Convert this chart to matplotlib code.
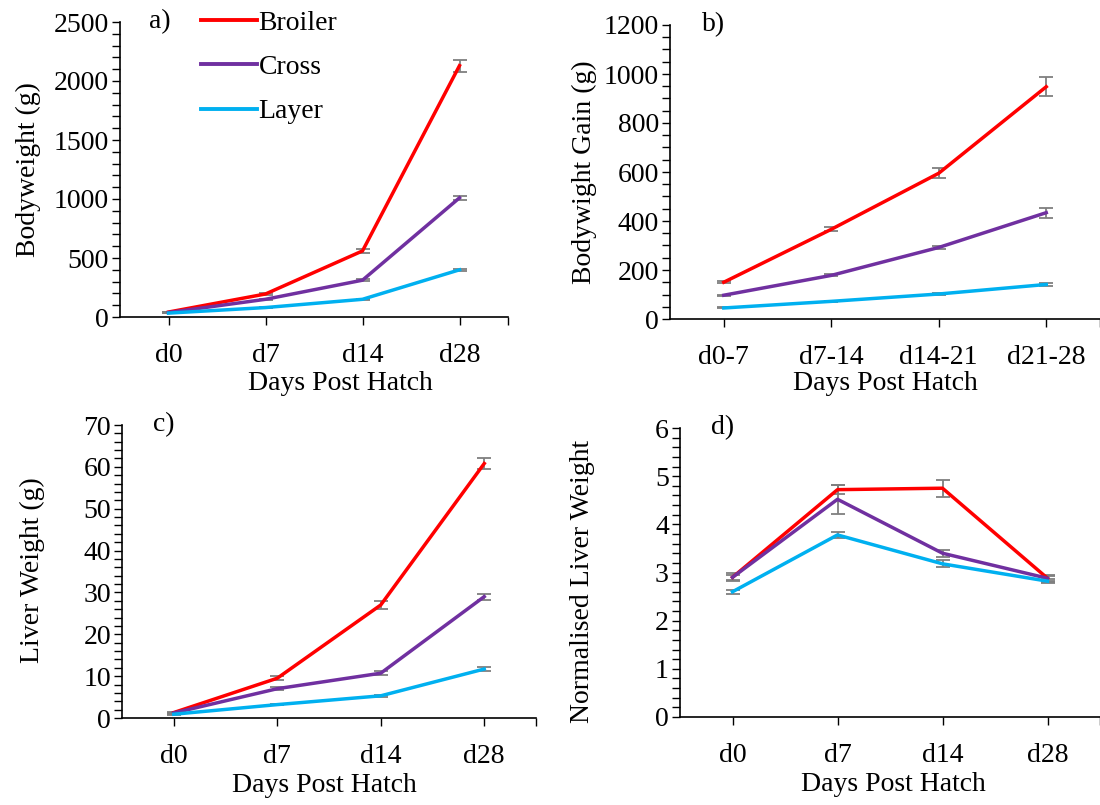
import matplotlib.pyplot as plt
from matplotlib.lines import Line2D
from matplotlib.ticker import MultipleLocator, FixedLocator

plt.rcParams['font.family'] = ['Liberation Serif']

lines = ['Broiler', 'Cross', 'Layer']
colors = {'Broiler': '#FF0000', 'Cross': '#7030A0', 'Layer': '#00B0F0'}

days = ['d0', 'd7', 'd14', 'd28']
gain_days = ['d0-7', 'd7-14', 'd14-21', 'd21-28']

# a) bodyweight (g)
bw = {'Broiler': [42, 195, 560, 2130],
      'Cross': [38, 150, 312, 1010],
      'Layer': [33, 80, 150, 400]}
bw_err = {'Broiler': [2, 8, 15, 50],
          'Cross': [2, 5, 8, 18],
          'Layer': [1, 3, 5, 10]}

# b) bodyweight gain (g)
gain = {'Broiler': [150, 366, 595, 948],
        'Cross': [97, 178, 292, 434],
        'Layer': [45, 72, 102, 141]}
gain_err = {'Broiler': [5, 8, 20, 38],
            'Cross': [3, 4, 5, 20],
            'Layer': [2, 2, 3, 5]}

# c) liver weight (g)
liver = {'Broiler': [1.3, 9.5, 27.0, 60.8],
         'Cross': [1.2, 7.0, 10.7, 29.0],
         'Layer': [0.9, 3.2, 5.3, 11.7]}
liver_err = {'Broiler': [0.2, 0.5, 1.0, 1.4],
             'Cross': [0.1, 0.3, 0.5, 0.7],
             'Layer': [0.1, 0.2, 0.2, 0.4]}

# d) normalised liver weight
norm = {'Broiler': [2.90, 4.72, 4.75, 2.88],
        'Cross': [2.90, 4.52, 3.40, 2.88],
        'Layer': [2.60, 3.78, 3.18, 2.82]}
norm_err = {'Broiler': [0.08, 0.10, 0.18, 0.07],
            'Cross': [0.05, 0.30, 0.07, 0.05],
            'Layer': [0.04, 0.06, 0.07, 0.04]}

W, H = 1100, 805
FS = 20
fig = plt.figure(figsize=(11, 8.05), dpi=100)


def make_axes(left, right, top, bottom):
    return fig.add_axes([left / W, 1 - bottom / H, (right - left) / W, (bottom - top) / H])


panels = [
    # box, data, err, cats, ylim, major, minor, ylabel, tag, ylabel xy, xlabel xy
    ((120, 508, 22, 317), bw, bw_err, days, 2500, 500, 100, 'Bodyweight (g)', 'a)',
     (-0.237, 0.50), (0.567, -0.224)),
    ((670, 1100, 25, 319), gain, gain_err, gain_days, 1200, 200, 50, 'Bodywight Gain (g)', 'b)',
     (-0.198, 0.50), (0.50, -0.218)),
    ((122, 536, 425, 718), liver, liver_err, days, 70, 10, 2, 'Liver Weight (g)', 'c)',
     (-0.217, 0.505), (0.49, -0.229)),
    ((680, 1100, 428, 717), norm, norm_err, days, 6, 1, 0.2, 'Normalised Liver Weight', 'd)',
     (-0.231, 0.47), (0.507, -0.235)),
]

for i, (box, data, err, cats, ymax, major, minor, ylab, tag, ylxy, xlxy) in enumerate(panels):
    ax = make_axes(*box)
    x = list(range(len(cats)))
    for name in lines:
        ax.errorbar(x, data[name], yerr=err[name], color=colors[name], lw=2.5,
                    ecolor='#7F7F7F', elinewidth=1.3, capsize=5, capthick=1.3,
                    zorder=3)
    ax.set_xlim(-0.5, 3.5)
    ax.set_ylim(0, ymax)
    ax.yaxis.set_major_locator(MultipleLocator(major))
    ax.yaxis.set_minor_locator(MultipleLocator(minor))
    ax.set_xticks(x)
    ax.set_xticklabels(cats)
    ax.xaxis.set_minor_locator(FixedLocator([3.5]))
    for s in ['top', 'right']:
        ax.spines[s].set_visible(False)
    for s in ['left', 'bottom']:
        ax.spines[s].set_linewidth(1.2)
        ax.spines[s].set_color('#000000')
    ax.spines['left'].set_zorder(4)
    ax.tick_params(axis='y', which='both', direction='out', length=6, width=1.0,
                   labelsize=FS, pad=2)
    ax.tick_params(axis='x', which='both', direction='out', length=6, width=1.0,
                   labelsize=FS, pad=13)
    ax.set_ylabel(ylab, fontsize=FS, va='center')
    ax.yaxis.set_label_coords(*ylxy)
    ax.set_xlabel('Days Post Hatch', fontsize=FS, va='center')
    ax.xaxis.set_label_coords(*xlxy)
    ax.text(0.075, 1.0, tag, transform=ax.transAxes, fontsize=FS, va='center', ha='left')
    if i == 0:
        handles = [Line2D([], [], color=colors[n], lw=2.8) for n in lines]
        ax.legend(handles, lines, loc='upper left', bbox_to_anchor=(0.21, 1.04),
                  frameon=False, fontsize=FS, handlelength=2.0, handletextpad=0.05,
                  labelspacing=0.68, borderpad=0, borderaxespad=0)

fig.savefig('out.png', dpi=100)
